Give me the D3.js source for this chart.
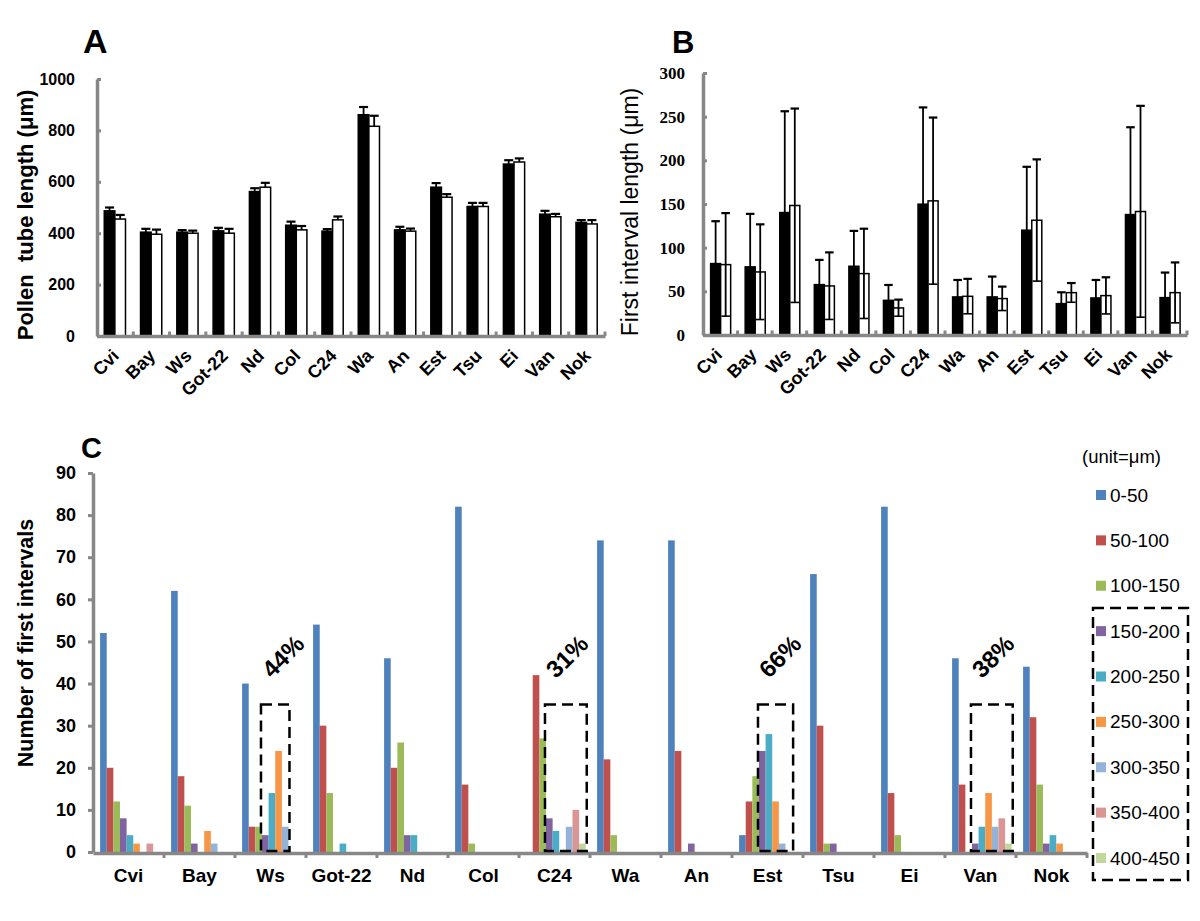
<!DOCTYPE html>
<html><head><meta charset="utf-8">
<script src="https://cdn.jsdelivr.net/npm/d3@7"></script>
<style>body{margin:0;background:#fff}svg{display:block}</style>
</head><body>
<svg id="chart" width="1200" height="921"></svg>
<script>
// ---------- DATA ----------
const accessions = ["Cvi","Bay","Ws","Got-22","Nd","Col","C24","Wa","An","Est","Tsu","Ei","Van","Nok"];
// Panel A: pollen tube length (µm)
const tubeBlack    = [487,404,404,409,562,431,408,861,413,579,504,669,474,442];
const tubeBlackErr = [13,13,8,12,13,14,8,30,12,16,14,15,13,9];
const tubeWhite    = [455,396,400,400,579,413,452,816,408,540,504,677,464,436];
const tubeWhiteErr = [16,18,10,17,17,15,13,41,10,12,14,14,11,15];
const tubeTicks = [0,200,400,600,800,1000];
// Panel B: first interval length (µm)
const intBlack    = [81.8,78,140.2,57.7,78.7,39.7,149.8,43.6,43.6,120,35.9,42.4,137.9,42.8];
const intBlackErr = [48.5,60.7,116,28.3,40.5,17.6,110.8,19.4,23.3,72.6,13,20.6,100,28.7];
const intWhite    = [80.6,72.2,148.3,56.2,70.3,31,153.6,44.3,41.7,131.4,48.5,45.1,141.4,48.5];
const intWhiteErr = [59,54.5,111,38.4,51.4,9.5,95.4,20,13.7,69.7,11,21,121,34.6];
const intTicks = [0,50,100,150,200,250,300];
// Panel C: number of first intervals per length bin
const bins = ["0-50","50-100","100-150","150-200","200-250","250-300","300-350","350-400","400-450"];
const bin0_50    = [52,62,40,54,46,82,0,74,74,4,66,82,46,44];
const bin50_100  = [20,18,6,30,20,16,42,22,24,12,30,14,16,32];
const bin100_150 = [12,11,6,14,26,2,27,4,0,18,2,4,0,16];
const bin150_200 = [8,2,4,0,4,0,8,0,2,24,2,0,2,2];
const bin200_250 = [4,0,14,2,4,0,5,0,0,28,0,0,6,4];
const bin250_300 = [2,5,24,0,0,0,0,0,0,12,0,0,14,2];
const bin300_350 = [0,2,6,0,0,0,6,0,0,2,0,0,6,0];
const bin350_400 = [2,0,0,0,0,0,10,0,0,0,0,0,8,0];
const bin400_450 = [0,0,0,0,0,0,2,0,0,0,0,0,2,0];
const binColors = ["#4F81BD","#C0504D","#9BBB59","#8064A2","#4BACC6","#F79646","#95B3D7","#D99694","#C3D69B"];
const countTicks = [0,10,20,30,40,50,60,70,80,90];
const highlights = [
  {acc:"Ws",  pct:"44%", first:"150-200", last:"300-350"},
  {acc:"C24", pct:"31%", first:"150-200", last:"400-450"},
  {acc:"Est", pct:"66%", first:"150-200", last:"350-400"},
  {acc:"Van", pct:"38%", first:"150-200", last:"400-450"}
];
const boxTop = 35, pctLevel = 41;

// ---------- DRAW ----------
const svg = d3.select("#chart");
const SANS = "'Liberation Sans', Arial, sans-serif";
const SERIF = "'Liberation Serif', 'Times New Roman', serif";
const GRAY = "#878787";

function styleAxis(g){
  g.select(".domain").attr("stroke",GRAY).attr("stroke-width",3.5);
  g.selectAll(".tick line").attr("stroke",GRAY).attr("stroke-width",3);
}

function pairPanel(o){
  const x = d3.scaleBand().domain(accessions).range(o.xr);
  const xi = d3.scaleBand().domain(["b","w"]).range([x.bandwidth()*o.inner[0], x.bandwidth()*o.inner[1]]);
  const y = d3.scaleLinear().domain(o.dom).range(o.yr);
  const g = svg.append("g");
  const bw = xi.bandwidth();
  const series = [
    {k:"b", v:o.black, e:o.blackErr, fill:"#000"},
    {k:"w", v:o.white, e:o.whiteErr, fill:"#fff"}
  ];
  series.forEach(s=>{
    g.selectAll(null).data(accessions).join("rect")
      .attr("x",(d)=>x(d)+xi(s.k)).attr("width",bw)
      .attr("y",(d,i)=>y(s.v[i])).attr("height",(d,i)=>y(0)-y(s.v[i]))
      .attr("fill",s.fill).attr("stroke","#000").attr("stroke-width",1.5);
  });
  series.forEach(s=>{
    const cw = bw*0.85;
    accessions.forEach((d,i)=>{
      const cx = x(d)+xi(s.k)+bw/2;
      const top = y(s.v[i]+s.e[i]);
      const bot = o.both ? y(Math.max(0,s.v[i]-s.e[i])) : y(s.v[i]);
      const col = "#000";
      g.append("line").attr("x1",cx).attr("x2",cx).attr("y1",top).attr("y2",bot)
        .attr("stroke",col).attr("stroke-width",1.8);
      g.append("line").attr("x1",cx-cw/2).attr("x2",cx+cw/2).attr("y1",top).attr("y2",top)
        .attr("stroke",col).attr("stroke-width",2.2);
      if(o.both){
        g.append("line").attr("x1",cx-cw/2).attr("x2",cx+cw/2).attr("y1",bot).attr("y2",bot)
          .attr("stroke",col).attr("stroke-width",1.6);
      }
    });
  });
  // y axis
  const ya = g.append("g").attr("transform",`translate(${o.xr[0]},0)`)
    .call(d3.axisLeft(y).tickValues(o.ticks).tickFormat(d3.format("d")).tickSize(-4).tickSizeOuter(0).tickPadding(o.tickPad));
  styleAxis(ya);
  ya.selectAll("text").attr("font-family",o.tickFont).attr("font-weight","bold")
    .attr("font-size",o.tickSize).attr("fill","#000");
  // x axis
  const xa = g.append("g").attr("transform",`translate(0,${y(0)})`)
    .call(d3.axisBottom(x).tickSize(0).tickSizeOuter(0).tickFormat(""));
  styleAxis(xa);
  d3.range(1,accessions.length+1).forEach(i=>{
    const bx = o.xr[0]+i*x.step();
    xa.append("line").attr("x1",bx).attr("x2",bx).attr("y1",0).attr("y2",-4.5)
      .attr("stroke",GRAY).attr("stroke-width",3);
  });
  g.selectAll(null).data(accessions).join("text")
    .attr("transform",d=>`translate(${x(d)+x.bandwidth()/2+o.lblDx},${y(0)+21}) rotate(-45)`)
    .attr("text-anchor","end").attr("font-family",SANS).attr("font-weight","bold")
    .attr("font-size",18).text(d=>d);
  // y title
  g.append("text").attr("transform",`translate(${o.titleX},${o.titleY}) rotate(-90)`)
    .attr("text-anchor","middle").attr("font-family",SANS).attr("font-weight",o.titleWeight)
    .attr("font-size",o.titleSize).attr("dominant-baseline","middle")
    .style("white-space","pre").attr("xml:space","preserve").text(o.title);
  g.append("text").attr("x",o.letter[0]).attr("y",o.letter[1]).attr("font-family",SANS)
    .attr("font-weight","bold").attr("font-size",o.letter[2]).text(o.letter[3]);
}

pairPanel({xr:[97,605], inner:[0.2,0.785], dom:[0,1000], yr:[336,79], black:tubeBlack, blackErr:tubeBlackErr,
  white:tubeWhite, whiteErr:tubeWhiteErr, both:false, ticks:tubeTicks, tickPad:22, tickFont:SANS, tickSize:16,
  lblDx:5, title:"Pollen  tube length (\u03bcm)", titleX:27, titleY:215, titleWeight:"bold", titleSize:22,
  letter:[83,53,34,"A"]});
pairPanel({xr:[703,1187], inner:[0.22,0.8], dom:[0,300], yr:[335,73], black:intBlack, blackErr:intBlackErr,
  white:intWhite, whiteErr:intWhiteErr, both:true, ticks:intTicks, tickPad:18, tickFont:SERIF, tickSize:17,
  lblDx:3, title:"First interval length (\u03bcm)", titleX:632, titleY:212, titleWeight:"normal", titleSize:23,
  letter:[672,53,31,"B"]});

// ---------- Panel C ----------
(function(){
  const binArrays = [bin0_50,bin50_100,bin100_150,bin150_200,bin200_250,bin250_300,bin300_350,bin350_400,bin400_450];
  const x0 = d3.scaleBand().domain(accessions).range([93,1087]);
  const x1 = d3.scaleBand().domain(bins).range([x0.bandwidth()*0.1, x0.bandwidth()*0.94]);
  const y = d3.scaleLinear().domain([0,90]).range([852,473]);
  const color = d3.scaleOrdinal().domain(bins).range(binColors);
  const g = svg.append("g");
  bins.forEach((b,bi)=>{
    g.selectAll(null).data(accessions).join("rect")
      .attr("x",d=>x0(d)+x1(b)).attr("width",x1.bandwidth())
      .attr("y",(d,i)=>y(binArrays[bi][i])).attr("height",(d,i)=>y(0)-y(binArrays[bi][i]))
      .attr("fill",color(b));
  });
  const ya = g.append("g").attr("transform","translate(93,0)")
    .call(d3.axisLeft(y).tickValues(countTicks).tickSize(5).tickSizeOuter(0).tickPadding(12));
  styleAxis(ya);
  ya.selectAll("text").attr("font-family",SANS).attr("font-weight","bold").attr("font-size",18).attr("fill","#000");
  const xa = g.append("g").attr("transform",`translate(0,${y(0)+1})`)
    .call(d3.axisBottom(x0).tickSize(0).tickSizeOuter(0).tickPadding(16));
  styleAxis(xa);
  xa.selectAll("text").attr("font-family",SANS).attr("font-weight","bold").attr("font-size",19).attr("fill","#000");
  d3.range(1,accessions.length+1).forEach(i=>{
    const bx = 93+i*x0.step();
    xa.append("line").attr("x1",bx).attr("x2",bx).attr("y1",0).attr("y2",5)
      .attr("stroke",GRAY).attr("stroke-width",3);
  });
  // highlight boxes
  highlights.forEach(h=>{
    const left = x0(h.acc)+x1(h.first)-1;
    const right = x0(h.acc)+x1(h.last)+x1.bandwidth()+1;
    g.append("rect").attr("x",left).attr("y",y(boxTop)).attr("width",right-left).attr("height",y(0)-1-y(boxTop))
      .attr("fill","none").attr("stroke","#000").attr("stroke-width",2.5).attr("stroke-dasharray","11,6");
    g.append("text").attr("transform",`translate(${left+11},${y(pctLevel)}) rotate(-45)`)
      .attr("font-family",SANS).attr("font-weight","bold").attr("font-size",24).text(h.pct);
  });
  // legend
  const lg = g.append("g");
  lg.append("text").attr("x",1082).attr("y",463).attr("font-family",SANS).attr("font-size",18.5).text("(unit=\u03bcm)");
  const ly = d3.scalePoint().domain(bins).range([495,858]);
  bins.forEach(b=>{
    lg.append("rect").attr("x",1096).attr("y",ly(b)-5).attr("width",10).attr("height",10).attr("fill",color(b));
    lg.append("text").attr("x",1110).attr("y",ly(b)).attr("dominant-baseline","central")
      .attr("font-family",SANS).attr("font-size",19).text(b);
  });
  lg.append("rect").attr("x",1093).attr("y",608).attr("width",95).attr("height",272)
    .attr("fill","none").attr("stroke","#000").attr("stroke-width",2.5).attr("stroke-dasharray","11,6");
  // y title
  g.append("text").attr("transform","translate(27,643) rotate(-90)").attr("text-anchor","middle")
    .attr("dominant-baseline","middle").attr("font-family",SANS).attr("font-weight","bold").attr("font-size",21.5)
    .text("Number of first intervals");
  g.append("text").attr("x",81).attr("y",458).attr("font-family",SANS).attr("font-weight","bold")
    .attr("font-size",29).text("C");
})();
</script>
</body></html>
